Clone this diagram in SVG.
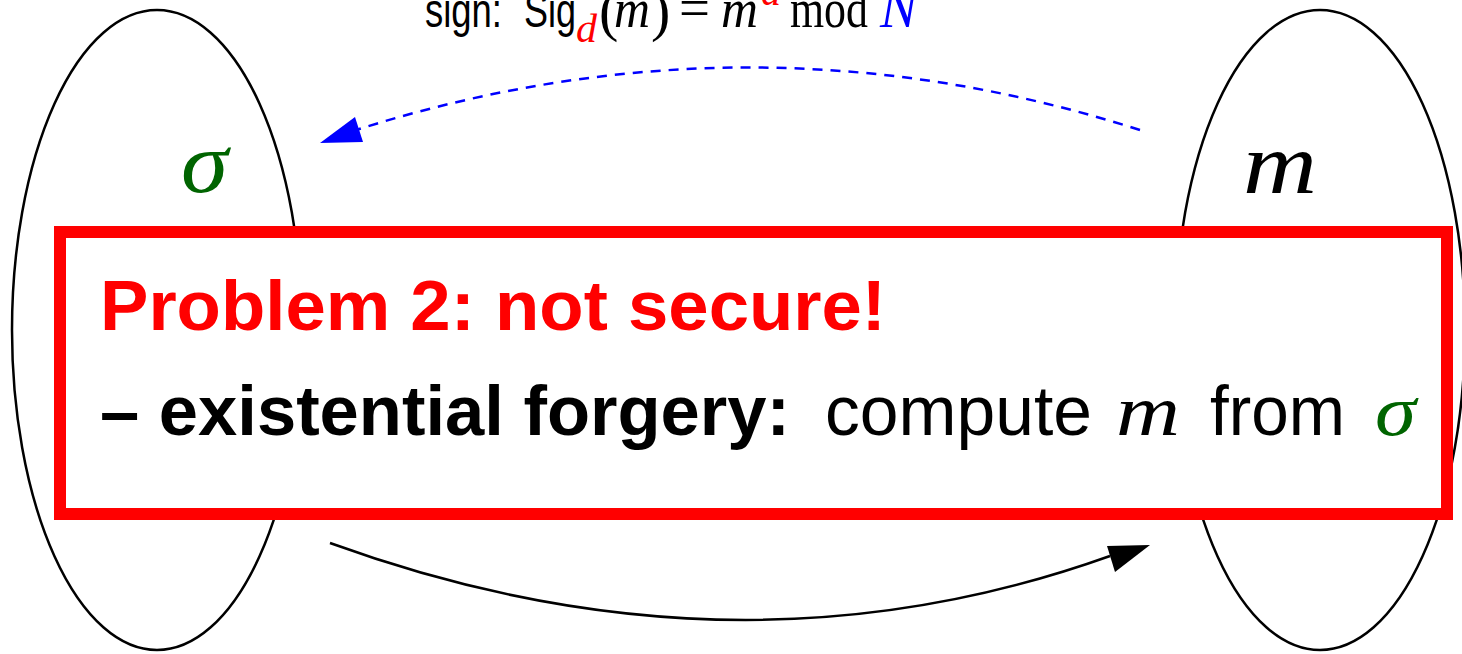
<svg xmlns="http://www.w3.org/2000/svg" width="1462" height="654" viewBox="0 0 1462 654">
<style>
.sans{font-family:"Liberation Sans",Arial,sans-serif}
.serif{font-family:"Liberation Serif","Times New Roman",serif}
.it{font-style:italic}
.bold{font-weight:bold}
.ell{fill:none;stroke:#000;stroke-width:2.5}
</style>
<rect width="1462" height="654" fill="#fff"/>
<g id="left-set">
<ellipse class="ell" cx="157" cy="330" rx="145" ry="320"/>
<text class="serif it" x="181" y="192" font-size="86" fill="#006400" textLength="47" lengthAdjust="spacingAndGlyphs">σ</text>
</g>
<g id="right-set">
<ellipse class="ell" cx="1320" cy="330" rx="145" ry="320"/>
<text class="serif it" x="1243" y="193" font-size="86" fill="#000" textLength="74" lengthAdjust="spacingAndGlyphs">m</text>
</g>
<g id="connectors">
<path d="M1140,130 Q750,5 356,130" fill="none" stroke="#00f" stroke-width="2.5" stroke-dasharray="10,8"/>
<path d="M363,142 L320,143 L355,117 Z" fill="#00f"/>
<path d="M330,543 Q735,690 1110,556" fill="none" stroke="#000" stroke-width="2.5"/>
<path d="M1150,545 L1107,546 L1115,572 Z" fill="#000"/>
</g>
<g id="sign-label">
<text class="sans" x="425" y="27" font-size="48" textLength="77" lengthAdjust="spacingAndGlyphs">sign:</text>
<text class="sans" x="524" y="27" font-size="48" textLength="52" lengthAdjust="spacingAndGlyphs">Sig</text>
<text class="serif it" x="576" y="42" font-size="40" fill="#f00" textLength="21" lengthAdjust="spacingAndGlyphs">d</text>
<text class="serif" x="599" y="30" font-size="58">(</text>
<text class="serif it" x="614" y="27" font-size="54" textLength="36" lengthAdjust="spacingAndGlyphs">m</text>
<text class="serif" x="651" y="30" font-size="58">)</text>
<text class="serif" x="679" y="27" font-size="58" textLength="31" lengthAdjust="spacingAndGlyphs">=</text>
<text class="serif it" x="721" y="27" font-size="54" textLength="37" lengthAdjust="spacingAndGlyphs">m</text>
<text class="serif it" x="761" y="5" font-size="40" fill="#f00">d</text>
<text class="serif" x="790" y="27" font-size="54" textLength="78" lengthAdjust="spacingAndGlyphs">mod</text>
<text class="serif it" x="880" y="27" font-size="56" fill="#00f">N</text>
</g>
<g id="problem-box">
<rect x="60" y="232" width="1387" height="282" fill="#fff" stroke="#f00" stroke-width="12"/>
<text class="sans bold" x="100" y="330" font-size="70" fill="#f00" textLength="786" lengthAdjust="spacingAndGlyphs">Problem 2:  not secure!</text>
<text class="sans bold" x="100" y="435" font-size="70" fill="#000" textLength="690" lengthAdjust="spacingAndGlyphs">– existential forgery:</text>
<text class="sans" x="825" y="435" font-size="70" fill="#000" textLength="267" lengthAdjust="spacingAndGlyphs">compute</text>
<text class="serif it" x="1116" y="435" font-size="72" fill="#000" textLength="64" lengthAdjust="spacingAndGlyphs">m</text>
<text class="sans" x="1210" y="435" font-size="70" fill="#000" textLength="135" lengthAdjust="spacingAndGlyphs">from</text>
<text class="serif it" x="1375" y="435" font-size="72" fill="#006400" textLength="41" lengthAdjust="spacingAndGlyphs">σ</text>
</g>
</svg>
